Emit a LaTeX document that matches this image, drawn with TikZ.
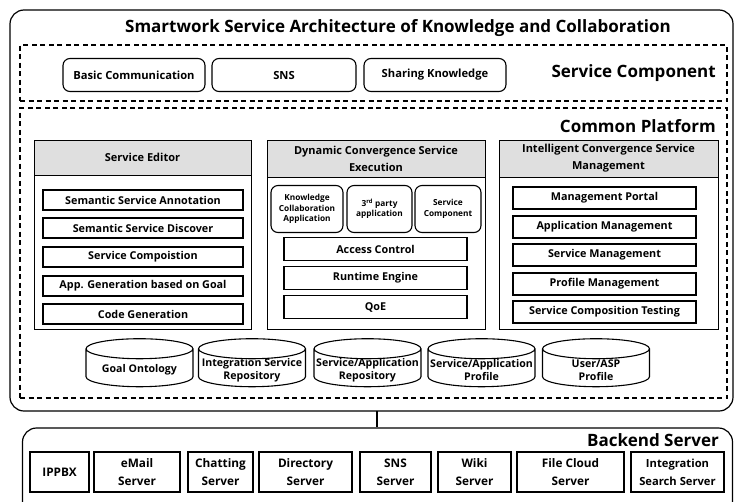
\documentclass[tikz,border=0pt]{standalone}
\usepackage{fontspec}
\setmainfont{Open Sans}
\usetikzlibrary{shapes.geometric}

\tikzset{
  box/.style={draw, line width=1.1pt, inner sep=0pt, align=center},
  item/.style={box, minimum height=20, font=\fontsize{10.8}{12}\selectfont\bfseries},
  rbtn/.style={box, rounded corners=7, font=\fontsize{11.2}{12}\selectfont\bfseries},
  panel/.style={draw, line width=1pt, inner sep=0pt},
  head/.style={draw, line width=1pt, fill=gray!25, inner sep=0pt, align=center, font=\fontsize{11}{17}\selectfont\bfseries},
  zone/.style={draw, line width=1.2pt, dash pattern=on 5pt off 3.5pt, inner sep=0pt},
  frame/.style={draw, line width=1.2pt, rounded corners=14, inner sep=0pt},
  db/.style={cylinder, shape border rotate=90, aspect=0.2, draw, line width=1.1pt, minimum width=107, minimum height=48, inner sep=0pt, font=\fontsize{10.6}{12}\selectfont},
  dbtext/.style={inner sep=0pt, align=center, yshift=-2pt, font=\fontsize{10.6}{13}\selectfont\bfseries},
  srv/.style={box, minimum height=40, font=\fontsize{11.8}{18}\selectfont\bfseries},
  zlabel/.style={anchor=east, inner sep=0pt, font=\fontsize{17}{18}\selectfont\bfseries}
}
\newcommand{\dbfill}{\hspace*{100pt}\strut}

\begin{document}
\begin{tikzpicture}[x=1pt, y=-1pt]
\useasboundingbox (0,0) rectangle (735,501);

% outer frame and title
\node[frame, minimum width=723, minimum height=401] (arch) at (371.5,210.5) {};
\node[font=\fontsize{17}{18}\selectfont\bfseries] (title) at (398,28) {Smartwork Service Architecture of Knowledge and Collaboration};

% service component
\node[zone, minimum width=707, minimum height=56] (sc) at (373.5,73) {};
\node[zlabel] (sclabel) at (716,73) {Service Component};
\node[rbtn, minimum width=142, minimum height=33] (basic) at (134,75) {Basic Communication};
\node[rbtn, minimum width=144, minimum height=33] (sns) at (284,75) {SNS};
\node[rbtn, minimum width=142, minimum height=33] (share) at (435,75) {Sharing Knowledge};

% common platform
\node[zone, minimum width=707, minimum height=290] (cp) at (373.5,253) {};
\node[zlabel] (cplabel) at (716,126) {Common Platform};

% service editor
\node[panel, minimum width=217, minimum height=189] (se) at (142.5,234.5) {};
\node[head, minimum width=217, minimum height=35] (sehead) at (142.5,157.5) {Service Editor};
\node[item, minimum width=200] (se1) at (143,200) {Semantic Service Annotation};
\node[item, minimum width=200] (se2) at (143,228) {Semantic Service Discover};
\node[item, minimum width=200] (se3) at (143,257) {Service Compoistion};
\node[item, minimum width=200] (se4) at (143,286) {App. Generation based on Goal};
\node[item, minimum width=200] (se5) at (143,314) {Code Generation};

% dynamic convergence service execution
\node[panel, minimum width=218, minimum height=189] (dc) at (376,234.5) {};
\node[head, minimum width=218, minimum height=37] (dchead) at (376,158.5) {Dynamic Convergence Service\\Execution};
\node[rbtn, minimum width=72, minimum height=47, font=\fontsize{8.3}{10.5}\selectfont\bfseries] (kca) at (307,209) {Knowledge\\Collaboration\\Application};
\node[rbtn, minimum width=65, minimum height=47, font=\fontsize{8.3}{10.5}\selectfont\bfseries] (third) at (379.5,209) {3\textsuperscript{rd} party\\application};
\node[rbtn, minimum width=66, minimum height=47, font=\fontsize{8.3}{10.5}\selectfont\bfseries] (scomp) at (448,209) {Service\\Component};
\node[item, minimum width=183, minimum height=23] (dc1) at (375.5,249) {Access Control};
\node[item, minimum width=183, minimum height=23] (dc2) at (375.5,278) {Runtime Engine};
\node[item, minimum width=183, minimum height=23] (dc3) at (375.5,307) {QoE};

% intelligent convergence service management
\node[panel, minimum width=219, minimum height=189] (ic) at (608.5,234.5) {};
\node[head, minimum width=219, minimum height=37] (ichead) at (608.5,158.5) {Intelligent Convergence Service\\Management};
\node[item, minimum width=183, minimum height=22] (ic1) at (604.5,198) {Management Portal};
\node[item, minimum width=183, minimum height=22] (ic2) at (604.5,227) {Application Management};
\node[item, minimum width=183, minimum height=22] (ic3) at (604.5,255) {Service Management};
\node[item, minimum width=183, minimum height=22] (ic4) at (604.5,284) {Profile Management};
\node[item, minimum width=183, minimum height=22] (ic5) at (604.5,312) {Service Composition Testing};

% repositories
\node[db] (goal) at (139.5,368) {\dbfill};
\node[db] (isr) at (252,368) {\dbfill};
\node[db] (sar) at (367.5,368) {\dbfill};
\node[db] (sap) at (481.5,368) {\dbfill};
\node[db] (asp) at (596,368) {\dbfill};
\node[dbtext] (goaltext) at (goal.center) {Goal Ontology};
\node[dbtext] (isrtext) at (isr.center) {Integration Service\\Repository};
\node[dbtext] (sartext) at (sar.center) {Service/Application\\Repository};
\node[dbtext] (saptext) at (sap.center) {Service/Application\\Profile};
\node[dbtext] (asptext) at (asp.center) {User/ASP\\Profile};

% backend
\node[frame, minimum width=710, minimum height=90] (back) at (377.5,473) {};
\node[zlabel] (backlabel) at (719,440) {Backend Server};
\coordinate (link) at (377,411);
\draw[line width=1.1pt] (link) -- (link |- back.north);

\node[srv, minimum width=59] (ippbx) at (59.5,472) {IPPBX};
\node[srv, minimum width=86] (email) at (137,472) {eMail\\Server};
\node[srv, minimum width=65] (chat) at (220.5,472) {Chatting\\Server};
\node[srv, minimum width=93] (dir) at (305.5,472) {Directory\\Server};
\node[srv, minimum width=71] (snss) at (395.5,472) {SNS\\Server};
\node[srv, minimum width=73] (wiki) at (474.5,472) {Wiki\\Server};
\node[srv, minimum width=107] (file) at (570.5,472) {File Cloud\\Server};
\node[srv, minimum width=93, font=\fontsize{11.2}{18}\selectfont\bfseries] (isrch) at (677.5,472) {Integration\\Search Server};
\end{tikzpicture}
\end{document}
